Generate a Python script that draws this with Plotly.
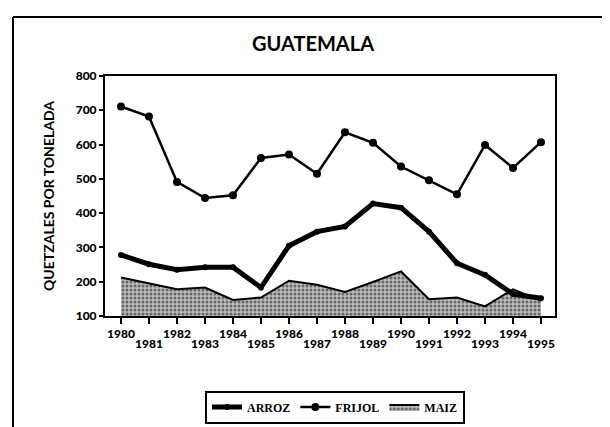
import plotly.graph_objects as go

# data (quetzales por tonelada)
years = list(range(1980, 1996))
arroz = [278, 251, 235, 242, 242, 183, 305, 346, 361, 428, 416, 346, 254, 220, 164, 152]
frijol = [711, 682, 491, 444, 452, 561, 571, 515, 636, 605, 536, 496, 455, 599, 532, 607]
maiz = [212, 196, 178, 183, 147, 154, 203, 191, 170, 199, 230, 149, 154, 128, 178, 145]

even_labels = [str(y) if y % 2 == 0 else "" for y in years]
odd_labels = [str(y) if y % 2 == 1 else "" for y in years]
y_ticks = [100, 200, 300, 400, 500, 600, 700, 800]

SANS = "Lato, 'Open Sans', sans-serif"
SERIF = "'Liberation Serif', 'Times New Roman', serif"

fig = go.Figure()

# Maiz: stippled area
fig.add_trace(go.Scatter(
    x=years, y=maiz, name="MAIZ", mode="lines", fill="tozeroy",
    line=dict(color="black", width=2),
    fillcolor="#b0b0b0",
    fillpattern=dict(shape=".", fgcolor="#111111", bgcolor="#bcbcbc", size=4, solidity=0.45),
    legendrank=3,
))

# Arroz: heavy line
fig.add_trace(go.Scatter(
    x=years, y=arroz, name="ARROZ", mode="lines+markers",
    line=dict(color="black", width=5),
    marker=dict(color="black", size=6),
    legendrank=1,
))

# Frijol: thin line with dots
fig.add_trace(go.Scatter(
    x=years, y=frijol, name="FRIJOL", mode="lines+markers",
    line=dict(color="black", width=2.5),
    marker=dict(color="black", size=8),
    legendrank=2,
))

# invisible trace on second x axis for the odd-year label row
fig.add_trace(go.Scatter(x=years, y=maiz, xaxis="x2", mode="lines",
                         line=dict(width=0), hoverinfo="skip", showlegend=False))

# outer page frame
frame = dict(color="black", width=2)
px = lambda p: (p - 97) / 450
py = lambda p: (308 - p) / 240
fig.add_shape(type="line", xref="paper", yref="paper", x0=px(5), x1=px(5), y0=py(9), y1=py(440), line=frame)
fig.add_shape(type="line", xref="paper", yref="paper", x0=px(5), x1=px(609), y0=py(9), y1=py(9), line=frame)
fig.add_shape(type="line", xref="paper", yref="paper", x0=px(609), x1=px(609), y0=py(9), y1=py(440), line=dict(color="#555", width=1))

fig.update_layout(
    width=610, height=427,
    margin=dict(l=97, r=63, t=68, b=119),
    paper_bgcolor="white", plot_bgcolor="white",
    title=dict(text="<b>GUATEMALA</b>", x=0.5, xanchor="center", y=1 - 36 / 427, yanchor="middle",
               font=dict(family=SANS, size=20, color="black")),
    xaxis=dict(
        range=[1979.43, 1995.5], tickvals=years, ticktext=even_labels,
        ticks="outside", ticklen=6, tickwidth=2, tickcolor="black",
        showline=True, linecolor="black", linewidth=2, mirror=True,
        showgrid=False, zeroline=False,
        tickfont=dict(family=SANS, size=12, color="black", weight=900),
    ),
    xaxis2=dict(
        overlaying="x", matches="x", side="bottom", anchor="y",
        tickvals=years, ticktext=odd_labels, ticks="", ticklabelstandoff=19,
        showline=False, showgrid=False, zeroline=False,
        tickfont=dict(family=SANS, size=12, color="black", weight=900),
    ),
    yaxis=dict(
        range=[100, 800], tickvals=y_ticks,
        ticks="outside", ticklen=4, tickwidth=2, tickcolor="black",
        showline=True, linecolor="black", linewidth=2, mirror=True,
        showgrid=False, zeroline=False,
        tickfont=dict(family=SANS, size=12, color="black", weight=900),
        title=dict(text="<b>QUETZALES POR TONELADA</b>", standoff=18,
                   font=dict(family=SANS, size=14, color="black")),
    ),
    legend=dict(
        orientation="h", x=px(327), xanchor="center", y=py(399), yanchor="middle",
        bordercolor="black", borderwidth=2, bgcolor="white",
        font=dict(family=SERIF, size=12, color="black", weight="bold"),
        itemwidth=30, tracegroupgap=0,
    ),
)

fig.write_html("out.html")
